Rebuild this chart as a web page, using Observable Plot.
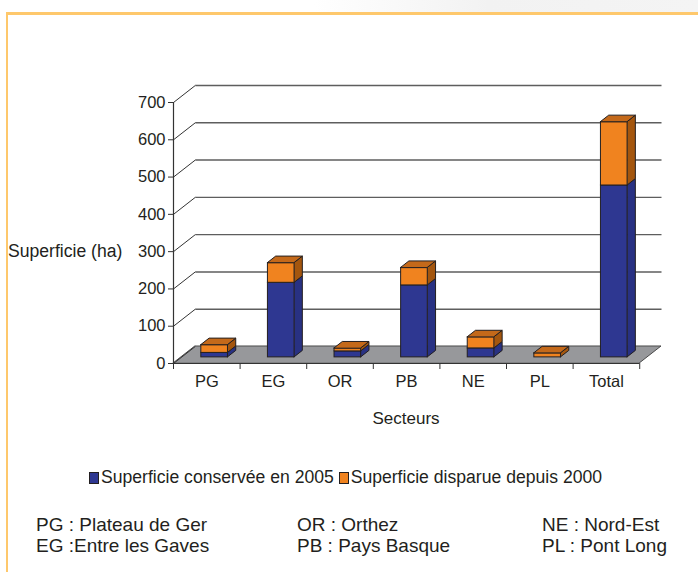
<!DOCTYPE html>
<html>
<head>
<meta charset="utf-8">
<script src="https://cdn.jsdelivr.net/npm/d3@7"></script>
<script src="https://cdn.jsdelivr.net/npm/@observablehq/plot@0.6"></script>
<style>
  html, body { margin: 0; padding: 0; background: #fff; }
  #wrap { position: relative; width: 698px; height: 572px; overflow: hidden; background: #fff;
    font-family: "Liberation Sans", Arial, Helvetica, sans-serif; color: #231f20; }
  #topband { position: absolute; left: 0; top: 0; width: 698px; height: 12px;
    background: linear-gradient(to right, #ffffff 0%, #ffffff 45%, #f2f2f2 70%, #f4f4f4 100%); }
  #frame { position: absolute; left: 6px; top: 12px; width: 720px; height: 600px;
    border-top: 3px solid #fec86c; border-left: 2px solid #fec86c; box-sizing: border-box; }
  #chart { position: absolute; left: 0; top: 0; }
  #chart svg text { font-size: 16.5px !important; font-family: "Liberation Sans", Arial, sans-serif; fill: #231f20; }
  .t { position: absolute; white-space: nowrap; }
  .sw { display: inline-block; width: 8px; height: 10px; border: 1px solid #231f20; vertical-align: -1px; margin-right: 2px; }
</style>
</head>
<body>
<div id="wrap">
  <div id="topband"></div>
  <div id="frame"></div>
  <div id="chart"></div>
  <div id="ylabel" class="t"></div>
  <div id="xlabel" class="t"></div>
  <div id="legend" class="t"></div>
  <div id="notes"></div>
</div>
<script>
// ---- data ----
const categories = ["PG", "EG", "OR", "PB", "NE", "PL", "Total"];
const conservee = [12, 200, 16, 193, 24, 0, 461];
const disparue = [21, 53, 8, 47, 30, 11, 170];
const seriesNames = ["Superficie conservée en 2005", "Superficie disparue depuis 2000"];
const yTicks = [0, 100, 200, 300, 400, 500, 600, 700];
const yTitle = "Superficie (ha)";
const xTitle = "Secteurs";
const notes = [
  ["PG : Plateau de Ger", "EG :Entre les Gaves"],
  ["OR : Orthez", "PB : Pays Basque"],
  ["NE : Nord-Est", "PL : Pont Long"]
];

// ---- 3D geometry (in data units) ----
const DX = 0.327, DY = 45.6;     // full depth offset
const F0 = 0.36, F1 = 0.74;      // bar front / back depth fraction
const HW = 0.2;                  // half bar width
const X0 = -0.5, X1 = categories.length - 0.5;
const YMAX = yTicks[yTicks.length - 1];

const colors = {
  front: ["#2e3791", "#f0831f"],
  side: ["#283183", "#a4560e"],
  top: ["#4550a8", "#c4691a"]
};
const edge = "#231f20";

const segs = [];
categories.forEach((c, i) => {
  const vals = [conservee[i], disparue[i]];
  let base = 0;
  vals.forEach((v, s) => {
    if (v > 0) { segs.push({id: c + s, i, s, base, top: base + v, last: false}); base += v; }
  });
  if (segs.length) segs[segs.length - 1].last = true;
});

const sidePts = segs.flatMap(d => [
  {id: d.id, s: d.s, x: d.i + HW + F0 * DX, y1: d.base + F0 * DY, y2: d.top + F0 * DY},
  {id: d.id, s: d.s, x: d.i + HW + F1 * DX, y1: d.base + F1 * DY, y2: d.top + F1 * DY}
]);
const topPts = segs.filter(d => d.last).flatMap(d => [
  {id: d.id, s: d.s, y: d.top + F0 * DY, x1: d.i - HW + F0 * DX, x2: d.i + HW + F0 * DX},
  {id: d.id, s: d.s, y: d.top + F1 * DY, x1: d.i - HW + F1 * DX, x2: d.i + HW + F1 * DX}
]);
const floorPts = [
  {y: 0, x1: X0, x2: X1},
  {y: DY, x1: X0 + DX, x2: X1 + DX}
];

const marks = [
  Plot.areaX(floorPts, {y: "y", x1: "x1", x2: "x2", fill: "#97989b", stroke: "#4a4a4a", strokeWidth: 1}),
  Plot.link(yTicks.slice(1), {x1: () => X0 + DX, x2: () => X1 + DX, y1: v => v + DY, y2: v => v + DY, stroke: "#5e5e5e", strokeWidth: 1.4}),
  Plot.link(yTicks, {x1: () => X0, y1: v => v, x2: () => X0 + DX, y2: v => v + DY, stroke: "#333", strokeWidth: 1}),
  Plot.ruleX([X0], {y1: () => 0, y2: () => YMAX, stroke: "#333", strokeWidth: 1.2}),
  Plot.ruleY([0], {x1: () => X0, x2: () => X1, stroke: "#333", strokeWidth: 1.2})
];
[0, 1].forEach(s => {
  marks.push(Plot.areaY(sidePts.filter(d => d.s === s), {x: "x", y1: "y1", y2: "y2", z: "id", fill: colors.side[s], stroke: edge, strokeWidth: 1}));
  marks.push(Plot.rect(segs.filter(d => d.s === s), {
    x1: d => d.i - HW + F0 * DX, x2: d => d.i + HW + F0 * DX,
    y1: d => d.base + F0 * DY, y2: d => d.top + F0 * DY,
    fill: colors.front[s], stroke: edge, strokeWidth: 1, inset: 0
  }));
  marks.push(Plot.areaX(topPts.filter(d => d.s === s), {y: "y", x1: "x1", x2: "x2", z: "id", fill: colors.top[s], stroke: edge, strokeWidth: 1}));
});
marks.push(
  Plot.axisY({ticks: yTicks, tickSize: 5, tickPadding: 3, label: null, stroke: "#333"}),
  Plot.axisX({ticks: categories.map((c, i) => i), tickFormat: i => categories[i], tickSize: 0, tickPadding: 12, label: null}),
  Plot.axisX({ticks: d3.range(categories.length + 1).map(k => k - 0.5), tickFormat: () => "", tickSize: 6, label: null, stroke: "#333"})
);

const chart = Plot.plot({
  width: 698,
  height: 400,
  marginLeft: 173,
  marginRight: 37,
  marginTop: 85,
  marginBottom: 37,
  x: {type: "linear", domain: [X0, X1 + DX]},
  y: {type: "linear", domain: [0, YMAX + DY]},
  style: {fontFamily: "'Liberation Sans', Arial, sans-serif", fontSize: "16.5px", color: "#231f20", background: "transparent", overflow: "visible"},
  marks
});
document.getElementById("chart").appendChild(chart);

// ---- texts ----
const yl = document.getElementById("ylabel");
yl.textContent = yTitle;
Object.assign(yl.style, {left: "8px", top: "241px", fontSize: "17.6px", lineHeight: "20px"});
const xl = document.getElementById("xlabel");
xl.textContent = xTitle;
Object.assign(xl.style, {left: "406px", top: "409px", fontSize: "17px", lineHeight: "20px", transform: "translateX(-50%)"});

const lg = document.getElementById("legend");
lg.innerHTML = seriesNames.map((n, s) =>
  `<span class="sw" style="background:${colors.front[s]}"></span>${n}`).join(" ");
Object.assign(lg.style, {left: "89px", top: "467px", fontSize: "17.6px", lineHeight: "20px"});

const nt = document.getElementById("notes");
const lefts = [36, 297, 542];
notes.forEach((col, k) => col.forEach((line, j) => {
  const el = document.createElement("div");
  el.className = "t";
  el.textContent = line;
  Object.assign(el.style, {left: lefts[k] + "px", top: (514 + j * 21) + "px", fontSize: "19px", lineHeight: "22px"});
  nt.appendChild(el);
}));
</script>
</body>
</html>
